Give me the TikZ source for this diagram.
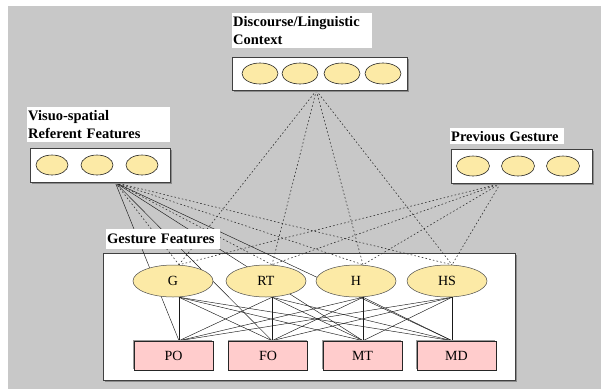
\documentclass[tikz,border=0pt]{standalone}
\usepackage{fontspec}
\setmainfont{Liberation Serif}
\usetikzlibrary{shapes.geometric,calc,shadows}
\definecolor{bgc}{HTML}{C8C8C8}
\definecolor{ell}{HTML}{FCEAA6}
\definecolor{pk}{HTML}{FFCCCC}
\pgfdeclarelayer{back}
\pgfdeclarelayer{lines}
\pgfsetlayers{back,lines,main}
\begin{document}
\begin{tikzpicture}[x=1pt,y=-1pt,
  lab/.style={fill=white, font=\fontsize{14.5}{17.5}\selectfont\bfseries, align=left, anchor=north west, inner xsep=1pt, inner ysep=0pt},
  grp/.style={draw=black!75, fill=white, line width=0.6pt, anchor=north west, inner sep=0pt,
     drop shadow={shadow xshift=1.2pt, shadow yshift=-1.2pt, fill=black!45, opacity=1}},
  sm/.style={ellipse, draw=black!85, fill=ell, line width=0.6pt, inner sep=0pt},
  big/.style={ellipse, draw=black!70, fill=ell, line width=0.5pt, minimum width=80pt, minimum height=32pt, inner sep=0pt, font=\fontsize{14}{16}\selectfont},
  rbox/.style={rectangle, draw=black!85, fill=pk, line width=0.6pt, minimum width=79pt, minimum height=29pt, inner sep=0pt, font=\fontsize{14}{16}\selectfont,
     drop shadow={shadow xshift=-1pt, shadow yshift=1pt, fill=black!40, opacity=1}},
  dl/.style={draw=black!80, dash pattern=on 1.6pt off 2.2pt, line width=0.6pt},
  sl/.style={draw=black!90, line width=0.45pt}]

\useasboundingbox (0,0) rectangle (601,389);

\begin{pgfonlayer}{back}
\fill[bgc] (8,6) rectangle (601,389);
\node[grp, minimum width=412pt, minimum height=127pt] (gbox) at (103,253) {};
\end{pgfonlayer}

% group boxes
\node[grp, minimum width=175pt, minimum height=33pt] (ctx) at (232,57) {};
\node[grp, minimum width=140pt, minimum height=34pt] (lft) at (30,148) {};
\node[grp, minimum width=141pt, minimum height=34pt] (rgt) at (451,149) {};

% labels
\node[lab, text width=138pt, minimum height=35pt] (ctxlab) at (232,13) {Discourse/Linguistic\\Context};
\node[lab, text width=141pt, minimum height=35pt] (lftlab) at (27,107) {Visuo-spatial\\Referent Features};
\node[lab, text width=112pt, minimum height=16pt] (rgtlab) at (450,128) {Previous Gesture};
\node[lab, text width=112pt, minimum height=20pt] (glab) at (106,229) {Gesture Features};

% small ellipses
\node[sm, minimum width=36pt, minimum height=21pt] (c1) at (260,73.5) {};
\node[sm, minimum width=36pt, minimum height=21pt] (c2) at (300,73.5) {};
\node[sm, minimum width=36pt, minimum height=21pt] (c3) at (342,73.5) {};
\node[sm, minimum width=36pt, minimum height=21pt] (c4) at (383,73.5) {};
\node[sm, minimum width=32pt, minimum height=20pt] (l1) at (52,165) {};
\node[sm, minimum width=32pt, minimum height=20pt] (l2) at (97,165) {};
\node[sm, minimum width=32pt, minimum height=20pt] (l3) at (142,165) {};
\node[sm, minimum width=33pt, minimum height=20pt] (r1) at (473,166) {};
\node[sm, minimum width=33pt, minimum height=20pt] (r2) at (518,166) {};
\node[sm, minimum width=33pt, minimum height=20pt] (r3) at (563,166) {};

% gesture feature ellipses
\node[big] (G) at (173,281) {G};
\node[big] (RT) at (266,281) {RT};
\node[big] (H) at (356,281) {H};
\node[big] (HS) at (447,281) {HS};

% output boxes
\node[rbox] (PO) at (173.5,355.5) {PO};
\node[rbox] (FO) at (268,355.5) {FO};
\node[rbox] (MT) at (362.5,355.5) {MT};
\node[rbox] (MD) at (456.5,355.5) {MD};

% ports
\coordinate (ctxp) at ([xshift=-3.5pt]ctx.south);
\coordinate (lftp) at ([xshift=15pt]lft.south);
\coordinate (rgtp) at ([xshift=-21.5pt]rgt.south);
\coordinate (Gt) at ([xshift=6pt]G.north);
\coordinate (RTt) at ([xshift=6pt]RT.north);
\coordinate (Ht) at ([xshift=7pt]H.north);
\coordinate (HSt) at ([xshift=5pt]HS.north);
\coordinate (Gb) at ([xshift=6pt]G.south);
\coordinate (RTb) at ([xshift=6pt]RT.south);
\coordinate (Hb) at ([xshift=7pt]H.south);
\coordinate (HSb) at ([xshift=5pt]HS.south);
\coordinate (POt) at ([xshift=5.5pt]PO.north);
\coordinate (FOt) at ([xshift=4pt]FO.north);
\coordinate (MTt) at ([xshift=0.5pt]MT.north);
\coordinate (MDt) at ([xshift=-4.5pt]MD.north);

\begin{pgfonlayer}{lines}
\foreach \s in {ctxp,lftp,rgtp}
  \foreach \e in {Gt,RTt,Ht,HSt}
    \draw[dl] (\s) -- (\e);
\foreach \r in {POt,FOt,MTt,MDt}
  \draw[sl] (lftp) -- (\r);
\foreach \e in {Gb,RTb,Hb,HSb}
  \foreach \r in {POt,FOt,MTt,MDt}
    \draw[sl] (\e) -- (\r);
\end{pgfonlayer}
\end{tikzpicture}
\end{document}
